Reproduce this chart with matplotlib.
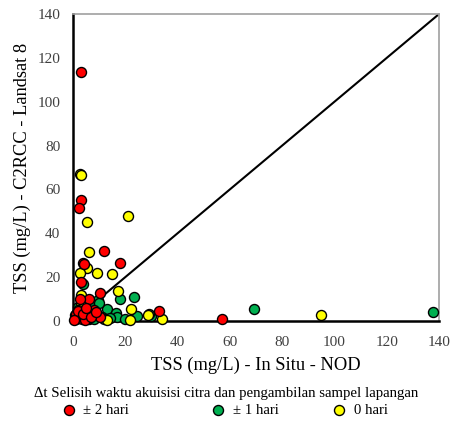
import matplotlib.pyplot as plt

plt.rcParams['font.family'] = ['Liberation Serif', 'DejaVu Serif']

# +-2 hari
red_x = [3.1, 3.1, 2.5, 11.9, 18.0, 3.8, 4.2, 3.1, 10.3, 6.0, 2.7, 33.0, 57.0,
         3.5, 5.5, 2.7, 1.0, 6.5, 10.5, 4.5, 8.0, 2.0, 0.5, 4.0, 7.0, 9.0, 5.0]
red_y = [113.5, 55.2, 51.5, 31.9, 26.4, 26.4, 25.8, 17.8, 12.8, 10.0, 10.0, 4.5, 1.0,
         0.9, 1.3, 2.3, 3.2, 1.8, 1.8, 0.5, 5.0, 4.5, 0.5, 3.0, 2.0, 4.0, 6.0]

# +-1 hari
green_x = [137.7, 69.2, 18.0, 23.3, 13.0, 16.5, 17.0, 20.0, 11.0, 7.7, 3.9, 30.0,
           29.0, 24.5, 3.8, 2.0, 9.6, 6.0, 1.5, 5.0, 8.0, 12.0, 14.0, 3.0, 6.0, 10.0]
green_y = [4.1, 5.5, 10.0, 11.0, 5.5, 3.6, 1.8, 0.9, 1.8, 3.6, 6.4, 2.3,
           3.2, 2.3, 16.9, 6.4, 9.6, 0.8, 1.5, 2.0, 1.0, 1.0, 1.5, 4.0, 8.0, 8.0]

# 0 hari
yellow_x = [2.7, 3.1, 5.3, 21.0, 6.1, 5.3, 9.2, 2.7, 15.0, 3.1, 17.2, 22.2,
            21.8, 13.0, 34.0, 28.7, 4.6, 0.8, 94.9, 1.0, 3.0, 7.0, 2.0]
yellow_y = [67.0, 66.5, 45.0, 47.9, 31.5, 24.0, 21.9, 21.9, 21.4, 11.9, 13.7, 5.5,
            0.5, 0.5, 0.9, 2.7, 5.9, 2.7, 2.7, 1.0, 8.0, 3.0, 5.0]

fig = plt.figure(figsize=(4.53, 4.21), dpi=100)
ax = fig.add_axes([0.161, 0.2375, 0.808, 0.729])

ax.plot([0, 140], [0, 140], color='black', lw=1.5, zorder=1)

kw = dict(s=52, edgecolors='black', linewidths=1.0, zorder=3, clip_on=False)
sg = ax.scatter(green_x, green_y, c='#00B050', **kw)
sy = ax.scatter(yellow_x, yellow_y, c='#FFFF00', **kw)
sr = ax.scatter(red_x, red_y, c='#FF0000', **kw)

ax.set_xlim(0, 140)
ax.set_ylim(0, 140)
ax.set_xticks(range(0, 141, 20))
ax.set_yticks(range(0, 141, 20))
ax.tick_params(length=0, labelsize=11, colors='#404040')
ax.tick_params(axis='x', pad=11)
ax.tick_params(axis='y', pad=9)
for s in ['left', 'bottom']:
    ax.spines[s].set_linewidth(1.8)
    ax.spines[s].set_color('black')
for s in ['top', 'right']:
    ax.spines[s].set_linewidth(1.2)
    ax.spines[s].set_color('#A0A0A0')

ax.set_xlabel('TSS (mg/L) - In Situ - NOD', fontsize=13.3, labelpad=5)
ax.set_ylabel('TSS (mg/L) - C2RCC - Landsat 8', fontsize=13.3, labelpad=5)

# legend: title plus three entries spread across the bottom
fig.text(0.5, 0.0665, 'Δt Selisih waktu akuisisi citra dan pengambilan sampel lapangan',
         ha='center', va='center', fontsize=10.6)
for h, lab, xf in [(sr, '± 2 hari', 0.135), (sg, '± 1 hari', 0.466), (sy, '0 hari', 0.733)]:
    fig.legend([h], [lab], loc='center left', bbox_to_anchor=(xf, 0.026),
               fontsize=10.6, frameon=False, handlelength=1.0, handletextpad=0.5,
               borderpad=0, borderaxespad=0)

fig.savefig('out.png', dpi=100)
